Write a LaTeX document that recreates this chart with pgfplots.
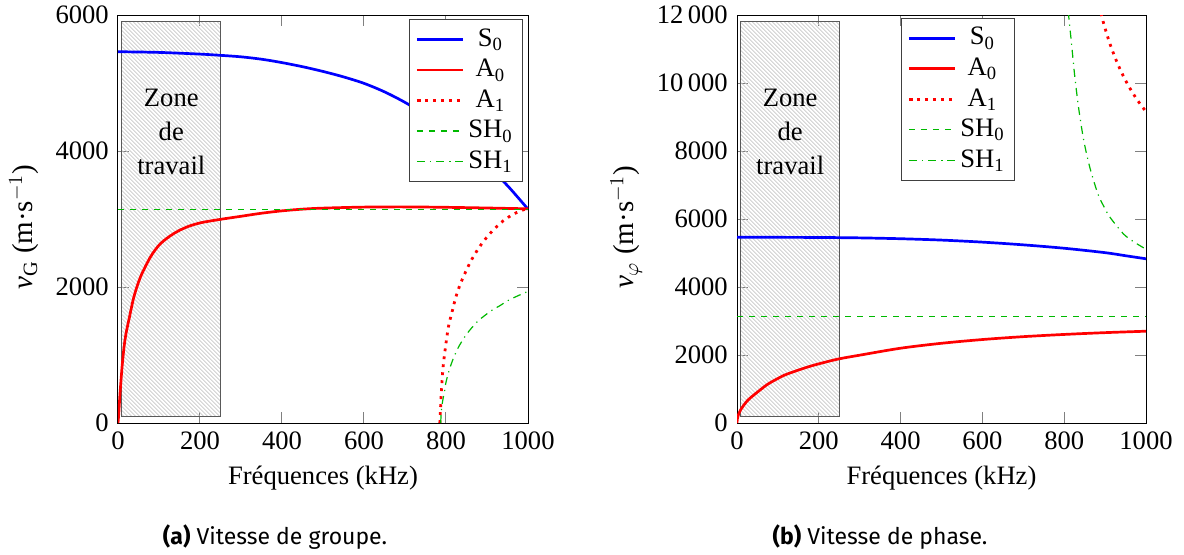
\documentclass[border=0pt]{standalone}
\usepackage{pgfplots}
\pgfplotsset{compat=1.18}
\usepackage{fontspec}
\setmainfont{Liberation Serif}
\newfontfamily\capfont{Fira Sans}
\definecolor{sgreen}{RGB}{0,185,0}
\definecolor{hatchgray}{RGB}{200,200,200}
\newcommand\fsz{\fontsize{13.3}{16}\selectfont}

\pgfplotsset{
  myaxis/.style={
    scale only axis,
    xmin=0, xmax=1000, ymin=0,
    xtick={0,200,...,1000},
    scaled ticks=false,
    tick align=inside,
    major tick length=5.3pt,
    every tick/.style={gray, line width=0.5pt},
    axis line style={line width=0.5pt},
    /pgf/number format/assume math mode=true,
    /pgf/number format/1000 sep={\,},
    /pgf/number format/min exponent for 1000 sep=4,
    ticklabel style={font=\fsz},
    label style={font=\fsz},
    legend cell align=center,
    legend image code/.code={\draw[mark repeat=2,mark phase=2] plot coordinates {(0pt,0pt)(11.5pt,0pt)(23pt,0pt)};},
    legend style={draw=black!75, fill=white, font=\fsz, line width=0.5pt, row sep=0.5pt, inner xsep=3pt, inner ysep=2.5pt},
    xlabel={Fréquences (kHz)},
    xlabel style={at={(axis description cs:0.5,-0.135)}, anchor=center},
  },
  s0/.style={blue, line width=1.35pt, smooth},
  a0/.style={red, line width=1.35pt, smooth},
  a1/.style={red, line width=1.4pt, dash pattern=on 1.4pt off 2.6pt, smooth},
  sh0/.style={sgreen, line width=0.6pt, dash pattern=on 3pt off 3pt},
  sh1/.style={sgreen, line width=0.6pt, dash pattern=on 4pt off 2.5pt on 0.6pt off 2.5pt, smooth},
}

\begin{document}
\fsz
\begin{tikzpicture}
\useasboundingbox (0,0) rectangle (592pt,277pt);

% ---------- (a) group velocity ----------
\begin{axis}[myaxis,
  at={(59pt,65.5pt)}, anchor=south west,
  width=205pt, height=204pt,
  ymax=6000, ytick={0,2000,4000,6000},
  ylabel={\textit{v}\textsubscript{G} (m·s$^{-1}$)},
  ylabel style={at={(axis description cs:-0.229,0.48)}, anchor=center, font=\fontsize{14.5}{17}\selectfont},
  legend style={at={(0.988,0.99)}, anchor=north east},
]
\begin{scope}
\clip (axis cs:8,100) rectangle (axis cs:250,5900);
\draw[hatchgray, line width=0.35pt] \foreach \s in {-210,-208,...,60} {([xshift=\s pt]axis cs:8,5900) -- ++(210pt,-210pt)};
\end{scope}
\draw[black!65, line width=0.6pt] (axis cs:8,100) rectangle (axis cs:250,5900);
\node[align=center, font=\fontsize{13.3}{17}\selectfont] at (axis description cs:0.13,0.714) {Zone\\de\\travail};

\addplot[s0] coordinates {
(0,5460)(100,5450)(200,5425)(250,5407)(300,5385)(350,5350)(400,5300)(450,5240)
(500,5170)(550,5090)(600,4995)(650,4870)(700,4715)(750,4530)(800,4320)(850,4080)
(900,3800)(950,3490)(975,3320)(1000,3145)};
\addlegendentry{S\textsubscript{0}}

\addplot[a0] coordinates {
(0,0)(2,150)(4,350)(6,520)(10,830)(15,1130)(20,1330)(27,1530)(39,1860)(55,2150)
(80,2450)(104,2640)(137,2790)(169,2885)(202,2945)(250,2995)(300,3040)(350,3085)
(400,3120)(450,3145)(500,3160)(600,3175)(700,3178)(800,3172)(900,3162)(1000,3150)};
\addlegendentry{A\textsubscript{0}}

\addplot[a1] coordinates {
(785,0)(787,250)(789,488)(793,830)(800,1172)(806,1416)(815,1640)(825,1870)(836,2060)
(853,2290)(869,2470)(890,2660)(914,2830)(939,2970)(967,3080)(1000,3160)};
\addlegendentry{A\textsubscript{1}}

\addplot[sh0] coordinates {(0,3140)(1000,3140)};
\addlegendentry{SH\textsubscript{0}}

\addplot[sh1] coordinates {
(787,0)(789,200)(792,330)(796,450)(800,600)(808,780)(816,920)(830,1110)(845,1260)
(860,1380)(880,1510)(910,1650)(930,1720)(951,1800)(975,1870)(1000,1935)};
\addlegendentry{SH\textsubscript{1}}
\end{axis}

% ---------- (b) phase velocity ----------
\begin{axis}[myaxis,
  at={(368.5pt,65.5pt)}, anchor=south west,
  width=204.5pt, height=204pt,
  ymax=12000, ytick={0,2000,...,12000},
  ylabel={\textit{v}\textsubscript{$\varphi$} (m·s$^{-1}$)},
  ylabel style={at={(axis description cs:-0.271,0.48)}, anchor=center, font=\fontsize{14.5}{17}\selectfont},
  legend style={at={(0.401,0.993)}, anchor=north west},
]
\begin{scope}
\clip (axis cs:8,200) rectangle (axis cs:250,11800);
\draw[hatchgray, line width=0.35pt] \foreach \s in {-210,-208,...,60} {([xshift=\s pt]axis cs:8,11800) -- ++(210pt,-210pt)};
\end{scope}
\draw[black!65, line width=0.6pt] (axis cs:8,200) rectangle (axis cs:250,11800);
\node[align=center, font=\fontsize{13.3}{17}\selectfont] at (axis description cs:0.13,0.714) {Zone\\de\\travail};

\addplot[s0] coordinates {
(0,5463)(100,5461)(200,5457)(300,5445)(400,5420)(500,5380)(600,5320)(700,5240)
(800,5140)(900,5010)(950,4920)(1000,4830)};
\addlegendentry{S\textsubscript{0}}

\addplot[a0] coordinates {
(0,0)(1,130)(3,225)(5,290)(10,410)(20,580)(30,710)(50,910)(75,1140)(100,1310)
(120,1427)(166,1621)(200,1740)(248,1883)(300,1995)(400,2200)(500,2345)(600,2455)
(700,2540)(800,2605)(900,2658)(1000,2700)};
\addlegendentry{A\textsubscript{0}}

\addplot[a1] coordinates {
(890,12049)(895,11816)(900,11603)(910,11218)(920,10884)(930,10584)(940,10316)
(950,10076)(960,9858)(970,9661)(980,9479)(990,9314)(1000,9160)};
\addlegendentry{A\textsubscript{1}}

\addplot[sh0] coordinates {(0,3140)(1000,3140)};
\addlegendentry{SH\textsubscript{0}}

\addplot[sh1] coordinates {
(810,12100)(812,11845)(818,11146)(826,10175)(836,9204)(848,8300)(863,7500)(883,6720)
(900,6300)(912,6050)(945,5560)(970,5330)(1000,5110)};
\addlegendentry{SH\textsubscript{1}}
\end{axis}

\node[font=\capfont\fontsize{11.5}{14}\selectfont] at (137.5pt,8.5pt) {\textbf{(a)} Vitesse de groupe.};
\node[font=\capfont\fontsize{11.5}{14}\selectfont] at (440pt,8.5pt) {\textbf{(b)} Vitesse de phase.};
\end{tikzpicture}
\end{document}
